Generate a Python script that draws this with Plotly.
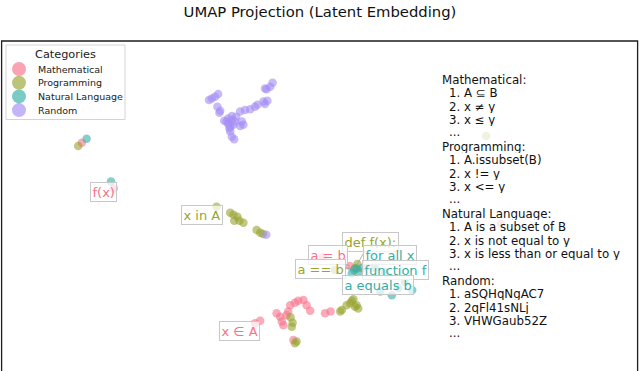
import plotly.graph_objects as go

# ---------------- data ----------------
categories = ["Mathematical", "Programming", "Natural Language", "Random"]
colors = ["#f77189", "#97a431", "#36ada4", "#a48cf4"]

math_x = [-1.98, -1.18, 2.35, 2.48, 2.89, 2.98, 3.02, 3.06, 3.18, 3.23, 3.35, 3.43, 3.56,
          3.64, 3.73, 3.14, 3.31, 4.24, 4.10, 4.05, 4.72, 8.50]
math_y = [2.68, 1.54, -1.83, -1.77, -1.58, -1.67, -1.79, -1.88, -1.54, -1.38, -1.32, -1.27, -1.25,
          -1.38, -1.52, -1.63, -2.25, -1.54, -1.58, -0.18, -0.40, 0.65]

prog_x = [-2.07, 1.39, 1.73, 1.81, 1.91, 1.96, 2.06, 1.83, 2.39, 2.48, 2.55, 3.24, 3.29, 3.27,
          3.39, 3.35, 4.52, 4.64, 4.77, 4.85, 4.81, 4.89, 4.73, 4.93, 4.48, 4.91, 4.35, 4.85, 8.13]
prog_y = [2.60, 1.08, 0.93, 0.88, 0.83, 0.73, 0.68, 0.73, 0.50, 0.43, 0.40, -1.68, -1.82, -1.92,
          -2.29, -2.33, -1.50, -1.38, -1.27, -1.42, -1.23, -1.38, -1.33, -1.46, -1.54, -0.35, -0.50,
          -0.45, 2.85]

nat_x = [-1.86, -1.25, 4.89, 4.96, 4.77, 5.03, 4.83, 5.48, 5.77, 5.35, 5.60, 6.10, 5.93, 6.28]
nat_y = [2.78, 1.71, -0.46, -0.54, -0.58, -0.45, -0.50, -1.04, -1.13, -0.45, -0.55, -0.80, -0.95, -1.00]

rand_x = [1.27, 1.43, 1.35, 1.20, 1.41, 1.48, 1.46, 1.68, 1.77, 1.64, 1.81, 1.73, 1.85, 1.77, 1.88,
          1.68, 2.02, 2.06, 1.98, 1.98, 2.10, 2.23, 2.35, 2.41, 2.56, 2.60, 2.66, 2.64, 2.73, 2.79,
          2.60, 1.73, 1.77, 1.83, 1.71, 1.58, 2.63]
rand_y = [3.79, 3.90, 3.83, 3.75, 3.58, 3.48, 3.43, 3.29, 3.25, 3.21, 3.13, 3.08, 3.21, 3.35, 3.33,
          3.15, 3.21, 3.13, 3.10, 3.46, 3.50, 3.52, 3.58, 3.63, 3.71, 3.65, 3.73, 4.02, 4.08, 4.18,
          4.04, 2.96, 2.83, 2.77, 3.04, 3.23, 0.38]

series_x = [math_x, prog_x, nat_x, rand_x]
series_y = [math_y, prog_y, nat_y, rand_y]

# labelled examples: text, category index, target point, text centre
label_texts = ["f(x)", "x in A", "x ∈ A", "def f(x):", "a = b", "a == b",
               "for all x", "function f", "a equals b"]
label_cats = [0, 1, 0, 1, 0, 1, 2, 2, 2]
label_px = [-1.18, 1.39, 2.35, 4.91, 4.72, 4.85, 4.96, 5.03, 4.77]
label_py = [1.54, 1.08, -1.83, -0.35, -0.40, -0.45, -0.54, -0.45, -0.58]
label_tx = [-1.43, 1.02, 1.95, 5.23, 4.18, 3.98, 5.73, 5.87, 5.43]
label_ty = [1.44, 0.88, -2.03, 0.21, -0.12, -0.48, -0.13, -0.51, -0.88]

math_examples = ["A ⊆ B", "x ≠ y", "x ≤ y"]
prog_examples = ["A.issubset(B)", "x != y", "x <= y"]
nat_examples = ["A is a subset of B", "x is not equal to y", "x is less than or equal to y"]
rand_examples = ["aSQHqNgAC7", "2qFl41sNLj", "VHWGaub52Z"]
examples = [math_examples, prog_examples, nat_examples, rand_examples]

FONT = "DejaVu Sans"
W, H = 640, 371
ML, MR, MT, MB = 1, 2, 41, 0
PW, PH = W - ML - MR, H - MT - MB


def pxx(px):
    return (px - ML) / PW


def pxy(py):
    return (H - MB - py) / PH


fig = go.Figure()
for name, c, xs, ys in zip(categories, colors, series_x, series_y):
    fig.add_trace(go.Scatter(
        x=xs, y=ys, mode="markers", name=name, showlegend=False,
        marker=dict(size=8.5, color=c, opacity=0.6, line=dict(width=0)),
        hoverinfo="skip"))

# labels with leader lines
for t, ci, x, y, tx, ty in zip(label_texts, label_cats, label_px, label_py, label_tx, label_ty):
    fig.add_annotation(
        x=x, y=y, ax=tx, ay=ty, xref="x", yref="y", axref="x", ayref="y",
        text=t, showarrow=True, arrowhead=0, arrowwidth=0.8, arrowcolor="#999999",
        standoff=0, startstandoff=0,
        font=dict(family=FONT, size=13, color=colors[ci]),
        bgcolor="rgba(255,255,255,0.72)", bordercolor="#c8c8c8", borderwidth=1, borderpad=1.5)

shapes = []
# plot frame
shapes.append(dict(type="rect", xref="paper", yref="paper", x0=pxx(1.6), x1=pxx(637.6),
                   y0=-0.1, y1=pxy(41), line=dict(color="#1e1e1e", width=1.3),
                   fillcolor="rgba(0,0,0,0)", layer="above"))
# text-block backdrop
shapes.append(dict(type="rect", xref="paper", yref="paper", x0=pxx(437), x1=pxx(628),
                   y0=pxy(342), y1=pxy(71), line=dict(width=0),
                   fillcolor="rgba(255,255,255,0.75)", layer="above"))
# legend box
shapes.append(dict(type="rect", xref="paper", yref="paper", x0=pxx(6), x1=pxx(125),
                   y0=pxy(119.5), y1=pxy(45), line=dict(color="#d4d4d4", width=1),
                   fillcolor="rgba(255,255,255,0.85)", layer="above"))
leg_y = [69, 82.7, 96.4, 110.1]
for c, ly in zip(colors, leg_y):
    shapes.append(dict(type="circle", xref="paper", yref="paper",
                       xsizemode="pixel", ysizemode="pixel",
                       xanchor=pxx(19), yanchor=pxy(ly), x0=-7, x1=7, y0=-7, y1=7,
                       fillcolor=c, opacity=0.65, line=dict(width=0), layer="above"))

fig.add_annotation(xref="paper", yref="paper", x=pxx(65), y=pxy(54), text="Categories",
                   showarrow=False, xanchor="center", yanchor="middle",
                   font=dict(family=FONT, size=11.3, color="#222222"))
for name, ly in zip(categories, leg_y):
    fig.add_annotation(xref="paper", yref="paper", x=pxx(36), y=pxy(ly), text=name,
                       showarrow=False, xanchor="left", yanchor="middle", height=13,
                       font=dict(family=FONT, size=9.5, color="#222222"))

# example text block
STEP = 13.4
line_y = 79.3
for name, ex in zip(categories, examples):
    fig.add_annotation(xref="paper", yref="paper", x=pxx(440), y=pxy(line_y), text=name + ":",
                       showarrow=False, xanchor="left", yanchor="middle", height=13,
                       font=dict(family=FONT, size=11.8, color="#111111"))
    line_y += STEP
    for i, e in enumerate(ex):
        fig.add_annotation(xref="paper", yref="paper", x=pxx(447), y=pxy(line_y),
                           text=f"{i + 1}. {e}", height=13,
                           showarrow=False, xanchor="left", yanchor="middle",
                           font=dict(family=FONT, size=11.8, color="#111111"))
        line_y += STEP
    fig.add_annotation(xref="paper", yref="paper", x=pxx(447), y=pxy(line_y - 1), text="...",
                       showarrow=False, xanchor="left", yanchor="middle", height=11,
                       font=dict(family=FONT, size=11.8, color="#111111"))
    line_y += STEP

fig.update_layout(
    width=W, height=H,
    margin=dict(l=ML, r=MR, t=MT, b=MB),
    paper_bgcolor="white", plot_bgcolor="white",
    title=dict(text="UMAP Projection (Latent Embedding)", x=0.5, xanchor="center",
               y=1 - 12 / H, yanchor="middle",
               font=dict(family=FONT, size=14.8, color="#111111")),
    xaxis=dict(range=[-4, 11.925], visible=False, fixedrange=True),
    yaxis=dict(range=[-3.025, 5.225], visible=False, fixedrange=True),
    shapes=shapes,
    showlegend=False,
)

fig.write_html("out.html",
               config={"displayModeBar": False, "staticPlot": True},
               post_script="document.body.style.margin='0';document.body.style.overflow='hidden';")
